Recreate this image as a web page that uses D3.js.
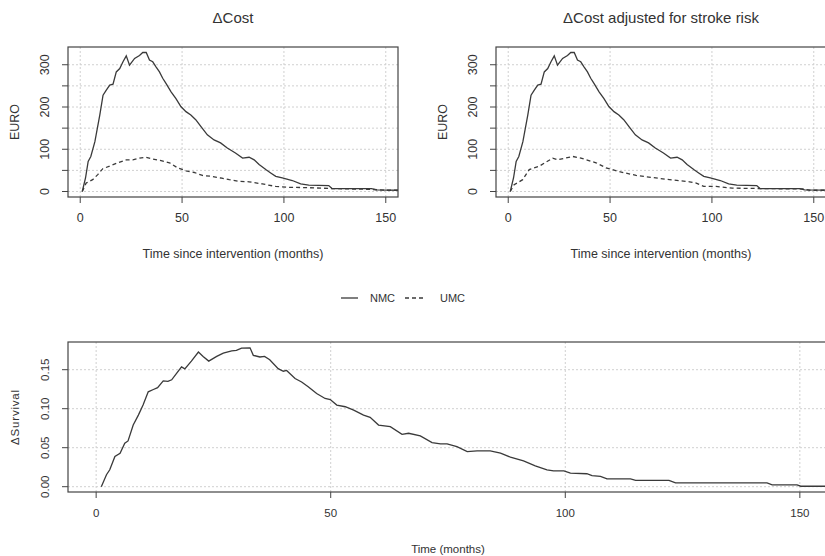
<!DOCTYPE html>
<html>
<head>
<meta charset="utf-8">
<script src="https://cdn.jsdelivr.net/npm/d3@7"></script>
<style>
  body { margin: 0; background: #fff; }
  text { font-family: "Liberation Sans", Arial, sans-serif; fill: #333; }
</style>
</head>
<body>
<svg width="825" height="556"></svg>
<script>
// --- data ---
var xTicks = [0, 50, 100, 150];
var costTicks = [0, 50, 100, 150, 200, 250, 300];
var costLabels = [0, 100, 200, 300];
var survTicks = [0, 0.05, 0.10, 0.15];

var nmcMonths = [1, 2.6, 3.9, 5.2, 7.2, 9.6, 11.2, 12.8, 14.5, 16.1, 17.7, 19.4, 21, 22.6, 24.2, 26.7, 29.1, 30.7, 32.4, 34, 35.6, 37.2, 38.9, 40.5, 42.1, 44.6, 47, 49.4, 51.9, 54.3, 56.7, 59.2, 62.4, 65.7, 68.9, 72.2, 76.2, 79.7, 82.9, 85.4, 87.8, 91.1, 93.5, 96, 99.2, 104.1, 108.2, 112.2, 122, 123.6, 143, 145.5, 156];
var nmcCost = [0, 32, 71, 83, 118, 181, 228, 240, 252, 254, 283, 291, 307, 321, 299, 315, 322, 329, 329, 311, 307, 295, 283, 268, 256, 236, 220, 201, 189, 181, 170, 154, 134, 122, 115, 103, 91, 79, 81, 75, 64, 52, 44, 36, 32, 26, 18, 15, 14, 7, 7, 4, 3];
var nmcCostAdj = [0, 32, 71, 83, 118, 181, 228, 240, 252, 254, 283, 291, 307, 321, 299, 315, 322, 329, 329, 311, 307, 295, 283, 268, 256, 236, 220, 201, 189, 181, 170, 154, 134, 122, 115, 103, 91, 79, 81, 75, 64, 52, 44, 36, 32, 26, 18, 15, 14, 7, 7, 4, 3];

var umcMonths = [1, 2.9, 6.1, 8.6, 11.1, 14.4, 18.5, 22.6, 25.8, 29.1, 32.4, 35.6, 39.7, 43.8, 47.8, 51.9, 56, 60, 64.1, 69, 73.2, 78, 82.9, 89.4, 96, 102.4, 112.2, 123.6, 143, 149.6, 156];
var umcCost = [0, 20, 28, 40, 54, 60, 68, 75, 75, 79, 81, 77, 73, 68, 56, 49, 45, 38, 36, 32, 28, 24, 23, 18, 12, 10, 9, 7, 5, 3, 3];

var umcAdjMonths = [1, 2.9, 7.1, 10.3, 15.3, 21.8, 24.3, 31.6, 35.7, 43.1, 48, 54.6, 62.8, 71, 79.2, 89, 92.3, 96, 102, 110, 123.6, 145, 148, 156];
var umcCostAdj = [0, 16, 28, 52, 60, 79, 75, 83, 79, 68, 56, 47, 38, 33, 28, 23, 20, 12, 12, 8, 7, 6, 3, 3];

var survMonths = [1.1, 2.2, 2.9, 4, 5.1, 6.1, 6.8, 7.9, 9, 10, 11.1, 12.2, 13.1, 14.3, 15.3, 16.1, 17.1, 18.2, 18.9, 20.3, 21.8, 22.8, 24, 25.7, 27.1, 28.9, 29.9, 31, 32.8, 33.5, 34.9, 35.9, 37, 38.8, 39.9, 40.6, 42.4, 43.8, 45.2, 47, 48.8, 49.9, 51.3, 53.1, 54.9, 57, 58.4, 60.2, 62.7, 65.2, 66.6, 69.1, 71.6, 73.4, 74.8, 76.9, 79.1, 81.2, 84, 86.2, 88.3, 91.1, 93.6, 96.1, 97.5, 99.7, 101.1, 104.6, 105.7, 107.5, 108.9, 113.9, 115, 122.1, 123.5, 143, 144.1, 149.4, 150.2, 156];
var survDelta = [0, 0.0153, 0.0217, 0.0387, 0.0429, 0.0557, 0.0587, 0.079, 0.0918, 0.1046, 0.1216, 0.1246, 0.127, 0.1356, 0.135, 0.137, 0.145, 0.1535, 0.151, 0.161, 0.1726, 0.167, 0.161, 0.167, 0.1713, 0.174, 0.1747, 0.1777, 0.178, 0.1684, 0.1663, 0.167, 0.1628, 0.1514, 0.148, 0.149, 0.1386, 0.1343, 0.128, 0.1195, 0.1131, 0.1118, 0.1046, 0.1025, 0.0982, 0.0918, 0.0889, 0.079, 0.0769, 0.0672, 0.0685, 0.0651, 0.0565, 0.0548, 0.0548, 0.0514, 0.045, 0.0459, 0.0459, 0.043, 0.0379, 0.0332, 0.0268, 0.0217, 0.0204, 0.0204, 0.0174, 0.0166, 0.0141, 0.0132, 0.0099, 0.0099, 0.0082, 0.0082, 0.0048, 0.0048, 0.0023, 0.0023, 0.0006, 0.0006];

var svg = d3.select("svg");
var lineColor = "#3a3a3a";
var clipId = 0;

function drawPanel(o) {
    var x = d3.scaleLinear().domain([-6, 156]).range([o.left, o.right]);
    var y = d3.scaleLinear().domain(o.yDomain).range([o.bottom, o.top]);
    var g = svg.append("g");

    var id = "clip" + (clipId++);
    g.append("clipPath").attr("id", id)
        .append("rect")
        .attr("x", o.left).attr("y", o.top)
        .attr("width", o.right - o.left).attr("height", o.bottom - o.top);

    // grid
    g.selectAll(".vg").data(xTicks).enter().append("line")
        .attr("x1", d => x(d)).attr("x2", d => x(d))
        .attr("y1", o.top).attr("y2", o.bottom)
        .attr("stroke", "#d0d0d0").attr("stroke-dasharray", "2,2");
    g.selectAll(".hg").data(o.yTicks).enter().append("line")
        .attr("x1", o.left).attr("x2", o.right)
        .attr("y1", d => y(d)).attr("y2", d => y(d))
        .attr("stroke", "#d0d0d0").attr("stroke-dasharray", "2,2");

    // series
    o.series.forEach(function (s) {
        var pts = s.x.map((d, i) => [d, s.y[i]]);
        g.append("path")
            .attr("clip-path", "url(#" + id + ")")
            .attr("d", d3.line().x(d => x(d[0])).y(d => y(d[1]))(pts))
            .attr("fill", "none")
            .attr("stroke", lineColor)
            .attr("stroke-width", 1.3)
            .attr("stroke-dasharray", s.dash ? "4,3" : null);
    });

    // box
    g.append("rect")
        .attr("x", o.left).attr("y", o.top)
        .attr("width", o.right - o.left).attr("height", o.bottom - o.top)
        .attr("fill", "none").attr("stroke", "#444").attr("stroke-width", 1.2);

    // x ticks
    g.selectAll(".xt").data(xTicks).enter().append("line")
        .attr("x1", d => x(d)).attr("x2", d => x(d))
        .attr("y1", o.bottom).attr("y2", o.bottom + 6)
        .attr("stroke", "#444");
    g.selectAll(".xl").data(xTicks).enter().append("text")
        .attr("x", d => x(d)).attr("y", o.bottom + 25)
        .attr("text-anchor", "middle")
        .attr("font-size", o.tickSize)
        .text(d => d);

    // y ticks
    g.selectAll(".yt").data(o.yTicks).enter().append("line")
        .attr("x1", o.left - 6).attr("x2", o.left)
        .attr("y1", d => y(d)).attr("y2", d => y(d))
        .attr("stroke", "#444");
    g.selectAll(".yl").data(o.yLabels).enter().append("text")
        .attr("transform", d => "translate(" + (o.left - 19) + "," + y(d) + ") rotate(-90)")
        .attr("text-anchor", "middle")
        .attr("font-size", o.tickSize)
        .text(o.yFormat);

    // axis titles
    g.append("text")
        .attr("x", (o.left + o.right) / 2).attr("y", o.bottom + 61)
        .attr("text-anchor", "middle").attr("font-size", o.labelSize)
        .text(o.xTitle);
    g.append("text")
        .attr("transform", "translate(" + (o.left - 49) + "," + ((o.top + o.bottom) / 2) + ") rotate(-90)")
        .attr("text-anchor", "middle").attr("font-size", o.labelSize)
        .attr("letter-spacing", o.ySpacing || 0)
        .text(o.yTitle);

    if (o.title) {
        g.append("text")
            .attr("x", (o.left + o.right) / 2).attr("y", 23)
            .attr("text-anchor", "middle").attr("font-size", 15)
            .text(o.title);
    }
}

drawPanel({
    left: 68, right: 398, top: 47, bottom: 197,
    yDomain: [-13, 342], yTicks: costTicks, yLabels: costLabels, yFormat: d => d,
    tickSize: 12.5, labelSize: 12.5,
    xTitle: "Time since intervention (months)", yTitle: "EURO", title: "\u0394Cost",
    series: [{x: nmcMonths, y: nmcCost}, {x: umcMonths, y: umcCost, dash: true}]
});

drawPanel({
    left: 496, right: 826, top: 47, bottom: 197,
    yDomain: [-13, 342], yTicks: costTicks, yLabels: costLabels, yFormat: d => d,
    tickSize: 12.5, labelSize: 12.5,
    xTitle: "Time since intervention (months)", yTitle: "EURO", title: "\u0394Cost adjusted for stroke risk",
    series: [{x: nmcMonths, y: nmcCostAdj}, {x: umcAdjMonths, y: umcCostAdj, dash: true}]
});

drawPanel({
    left: 68, right: 828, top: 342, bottom: 492,
    yDomain: [-0.0068, 0.1855], yTicks: survTicks, yLabels: survTicks, yFormat: d => d3.format(".2f")(d),
    tickSize: 11.5, labelSize: 11.5, ySpacing: 0.8,
    xTitle: "Time (months)", yTitle: "\u0394Survival",
    series: [{x: survMonths, y: survDelta}]
});

// legend
var leg = svg.append("g").attr("transform", "translate(0,298)");
leg.append("line").attr("x1", 341).attr("x2", 358).attr("y1", 0).attr("y2", 0)
    .attr("stroke", lineColor).attr("stroke-width", 1.3);
leg.append("text").attr("x", 370).attr("y", 4).attr("font-size", 11).text("NMC");
leg.append("line").attr("x1", 405).attr("x2", 426).attr("y1", 0).attr("y2", 0)
    .attr("stroke", lineColor).attr("stroke-width", 1.3).attr("stroke-dasharray", "4,3");
leg.append("text").attr("x", 440).attr("y", 4).attr("font-size", 11).text("UMC");
</script>
</body>
</html>
